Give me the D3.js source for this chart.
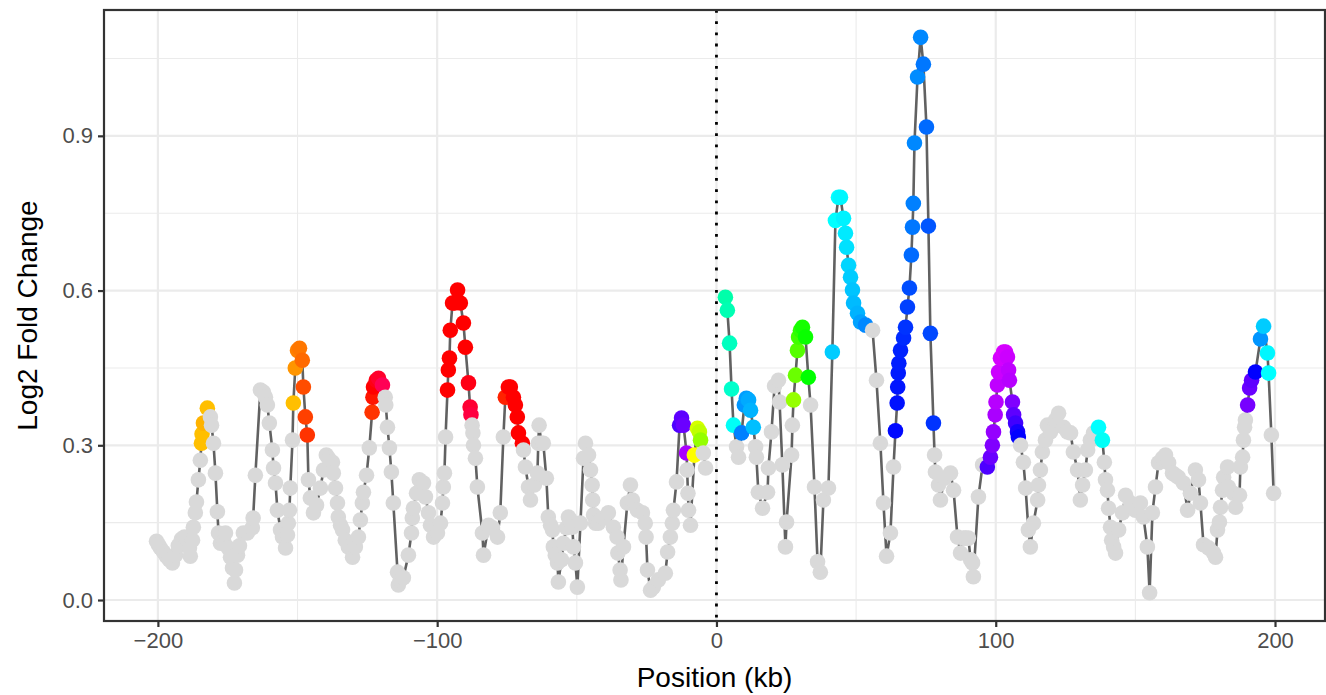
<!DOCTYPE html>
<html><head><meta charset="utf-8">
<script src="https://cdn.jsdelivr.net/npm/d3@7/dist/d3.min.js"></script>
<style>
body{margin:0;background:#fff}
text{font-family:"Liberation Sans",Arial,Helvetica,sans-serif}
</style>
</head><body>
<svg id="chart" width="1326" height="695"></svg>
<script>
// ---------- DATA ----------
// Background (non-significant) probes: position (kb) and log2 fold change
const bgPositionKb = [
-200.5,-199.8,-199.1,-198.0,-197.0,-195.9,-194.8,-193.7,-192.7,-191.6,
-190.5,-189.4,-188.7,-188.4,-187.6,-187.3,-186.6,-186.2,-185.5,-184.8,
-181.2,-180.8,-180.1,-179.4,-178.7,-178.3,-177.6,-176.5,-175.8,-174.8,
-174.0,-173.3,-172.6,-172.2,-171.5,-170.8,-169.4,-168.0,-166.2,-165.9,
-165.1,-163.3,-162.2,-161.5,-160.8,-160.1,-159.0,-158.6,-157.9,-157.2,
-156.1,-155.4,-154.3,-153.6,-153.3,-152.9,-152.6,-151.8,
-146.1,-145.4,-144.3,-143.2,-141.8,-140.7,-139.7,-138.9,-137.5,-137.2,
-136.4,-135.7,-135.4,-134.6,-133.9,-132.9,-131.8,-130.3,-129.3,-128.2,
-127.5,-126.8,-126.4,-125.3,-124.3,
-118.6,-118.4,-117.8,-117.1,-116.4,-115.7,-114.2,-113.9,-113.2,-112.1,
-110.3,-109.2,-108.9,-108.5,-107.4,-106.4,-104.9,-104.2,-103.1,-102.4,
-101.3,-99.9,-98.8,-98.1,-97.8,-97.4,-97.0,
-87.5,-87.2,-87.0,-86.3,-85.6,-83.8,-83.4,-81.6,-80.2,-78.4,-77.4,-76.3,
-69.1,-68.4,-67.3,-66.6,-65.2,-64.1,-63.8,-63.5,-62.7,-62.0,
-60.9,-60.2,-59.4,-58.7,-58.4,-57.7,-56.9,-56.6,-55.5,-54.8,
-53.7,-53.0,-52.3,-51.6,-51.2,-50.5,-49.8,-48.7,-47.6,-46.9,
-45.8,-45.1,-44.5,-44.3,-44.0,-43.3,-42.3,-40.5,-38.7,-36.9,
-35.6,-35.3,-34.5,-34.2,-33.3,-31.9,-30.8,-30.1,-28.3,-26.5,
-25.5,-25.2,-24.7,-23.6,-22.6,-20.8,-18.3,-17.5,-16.5,-15.8,
-15.4,-14.3,-10.5,-10.2,-10.0,-9.3,-4.7,-3.9,
7.2,7.9,14.0,14.3,15.0,16.5,18.3,18.6,19.7,20.8,
22.2,22.6,23.6,24.7,25.1,26.9,27.2,33.7,35.1,36.2,
37.2,38.3,40.1,55.9,57.3,58.7,59.8,60.9,62.3,63.4,
78.1,78.4,79.5,80.2,81.6,83.8,84.9,86.3,87.4,88.5,
89.2,90.2,91.0,91.7,92.0,93.8,95.3,
108.9,109.9,110.7,111.7,112.4,113.5,115.0,115.3,116.0,116.7,
117.8,118.5,119.6,121.4,122.5,124.3,125.7,126.8,127.8,129.3,
130.3,131.1,132.1,132.9,133.9,135.0,
138.9,139.3,140.0,140.4,141.1,141.5,142.2,142.9,144.0,145.4,
146.5,148.3,150.0,151.8,152.9,154.3,155.1,156.1,157.2,158.3,
159.7,160.8,161.9,163.3,164.4,165.4,167.2,168.7,169.7,171.5,
172.6,173.3,174.4,176.2,178.0,178.7,179.4,180.1,180.5,181.2,
181.6,183.0,183.3,185.1,185.9,187.3,187.6,188.4,188.7,189.1,
189.4,198.7,199.5
];
const bgLog2FC = [
0.114,0.107,0.101,0.093,0.085,0.078,0.072,0.087,0.105,0.118,
0.122,0.114,0.101,0.085,0.116,0.141,0.169,0.190,0.233,0.271,
0.355,0.339,0.304,0.246,0.171,0.130,0.110,0.116,0.130,0.101,
0.083,0.062,0.033,0.058,0.087,0.105,0.130,0.130,0.140,0.159,
0.242,0.407,0.403,0.393,0.378,0.343,0.291,0.256,0.227,0.174,
0.136,0.122,0.101,0.126,0.149,0.174,0.217,0.310,
0.233,0.198,0.169,0.184,0.217,0.252,0.281,0.275,0.267,0.246,
0.217,0.188,0.161,0.145,0.136,0.116,0.103,0.083,0.103,0.122,
0.155,0.188,0.209,0.242,0.295,
0.393,0.378,0.335,0.295,0.248,0.188,0.054,0.029,0.039,0.043,
0.087,0.130,0.159,0.178,0.207,0.233,0.227,0.200,0.169,0.145,
0.122,0.130,0.149,0.188,0.219,0.246,0.316,
0.339,0.324,0.300,0.275,0.219,0.130,0.087,0.145,0.140,0.122,0.169,0.316,
0.291,0.258,0.219,0.194,0.223,0.246,0.304,0.339,0.304,0.304,
0.236,0.161,0.145,0.136,0.103,0.087,0.072,0.035,0.078,0.110,
0.140,0.161,0.155,0.141,0.103,0.072,0.025,0.149,0.275,0.304,
0.281,0.252,0.223,0.194,0.165,0.149,0.149,0.159,0.169,0.141,
0.122,0.091,0.058,0.039,0.103,0.188,0.223,0.194,0.174,0.169,
0.149,0.122,0.058,0.019,0.025,0.039,0.052,0.093,0.122,0.149,
0.174,0.229,0.252,0.207,0.174,0.145,0.285,0.256,
0.297,0.277,0.297,0.277,0.209,0.178,0.209,0.256,0.326,0.415,
0.426,0.384,0.262,0.103,0.151,0.281,0.339,0.378,0.219,0.074,
0.054,0.194,0.217,0.523,0.426,0.304,0.188,0.085,0.130,0.258,
0.281,0.248,0.223,0.194,0.236,0.246,0.213,0.122,0.091,0.120,
0.120,0.120,0.078,0.072,0.045,0.200,0.262,
0.300,0.267,0.217,0.136,0.103,0.149,0.194,0.223,0.252,0.287,
0.310,0.339,0.326,0.349,0.362,0.335,0.326,0.324,0.287,0.252,
0.194,0.223,0.252,0.291,0.310,0.324,
0.267,0.233,0.213,0.178,0.141,0.116,0.103,0.091,0.136,0.169,
0.203,0.188,0.174,0.188,0.161,0.103,0.014,0.169,0.219,0.266,
0.275,0.281,0.266,0.246,0.242,0.238,0.227,0.174,0.207,0.252,
0.233,0.188,0.107,0.101,0.091,0.083,0.136,0.151,0.180,0.213,
0.238,0.258,0.219,0.207,0.180,0.203,0.258,0.277,0.310,0.335,
0.349,0.320,0.207
];
// Significant probes: position (kb), log2 fold change, and colour hue (degrees)
const sigPositionKb = [
-184.4,-184.2,-183.7,-182.3,
-151.5,-150.8,-150.0,-149.3,-148.3,-147.9,-147.2,-146.5,
-123.3,-123.0,-122.8,-121.8,-121.0,-119.6,
-96.3,-96.0,-95.6,-95.3,-94.5,-93.8,-92.7,-91.7,-90.6,-89.9,-88.8,-88.2,-87.9,
-75.6,-74.5,-73.8,-72.7,-72.0,-71.3,-70.9,-69.5,
-13.2,-12.5,-11.8,-10.7,
-7.9,-6.8,-6.1,-5.7,
3.2,3.9,4.7,5.4,6.1,
9.0,10.0,10.7,11.5,12.2,13.2,
27.6,28.3,29.0,29.4,30.1,30.8,31.9,32.9,
41.5,42.6,43.7,44.4,45.5,46.2,46.6,47.3,48.0,48.7,49.1,50.5,51.6,53.4,
64.1,64.7,64.9,65.1,65.3,65.9,67.0,67.7,68.4,69.1,69.8,70.2,70.5,70.9,
72.0,73.1,74.1,75.2,75.9,76.6,77.7,
97.0,98.1,98.8,99.2,99.8,100.1,100.6,101.0,101.7,102.8,103.5,104.2,104.6,104.9,
106.0,106.4,107.1,107.8,108.1,
136.8,138.2,
190.2,190.9,191.6,193.0,194.8,195.9,197.3,197.7
];
const sigLog2FC = [
0.304,0.322,0.343,0.372,
0.382,0.450,0.484,0.488,0.465,0.413,0.355,0.320,
0.364,0.393,0.413,0.426,0.430,0.417,
0.407,0.446,0.469,0.523,0.576,0.576,0.601,0.576,0.537,0.490,0.421,0.374,0.359,
0.393,0.413,0.413,0.393,0.378,0.355,0.324,0.304,
0.339,0.353,0.339,0.285,
0.281,0.333,0.326,0.310,
0.587,0.562,0.498,0.409,0.339,
0.324,0.378,0.391,0.388,0.368,0.335,
0.388,0.436,0.484,0.510,0.523,0.529,0.510,0.432,
0.481,0.736,0.781,0.781,0.740,0.711,0.684,0.649,0.626,0.601,0.576,0.556,0.539,0.533,
0.328,0.382,0.413,0.440,0.459,0.484,0.508,0.529,0.568,0.605,0.669,0.723,0.769,0.886,
1.014,1.091,1.039,0.917,0.725,0.517,0.343,
0.258,0.277,0.300,0.326,0.359,0.384,0.417,0.442,0.469,0.481,0.481,0.471,0.446,0.426,
0.384,0.359,0.343,0.326,0.316,
0.335,0.310,
0.378,0.411,0.426,0.442,0.506,0.531,0.479,0.440
];
const sigHue = [
45,45,42,45,
45,35,30,28,25,18,15,12,
12,5,0,355,350,340,
0,0,0,0,0,0,0,0,0,0,355,348,345,
8,0,0,0,0,0,0,0,
258,262,265,280,
60,70,75,85,
160,162,165,168,178,
210,205,203,200,198,195,
85,95,100,105,110,115,118,120,
192,180,180,182,183,185,187,190,192,194,196,198,202,208,
238,236,235,234,233,232,230,228,225,222,215,212,210,208,
207,208,212,215,220,223,228,
258,265,270,275,280,283,285,288,290,292,290,288,285,283,
270,262,255,245,240,
180,178,
268,265,262,240,205,192,182,180
];
const xTickValues = [-200,-100,0,100,200];
const xMinorValues = [-150,-50,50,150];
const yTickValues = [0,0.3,0.6,0.9];
const yMinorValues = [0.15,0.45,0.75,1.05];
const xTitle = "Position (kb)";
const yTitle = "Log2 Fold Change";

// ---------- CHART ----------
const svg = d3.select("#chart");
const panel = {left:104, right:1325, top:10, bottom:621};
const x = d3.scaleLinear().domain([-219.3, 217.9]).range([panel.left, panel.right]);
const y = d3.scaleLinear().domain([-0.0407, 1.144]).range([panel.bottom, panel.top]);

const points = [];
bgPositionKb.forEach((p,i)=>points.push({kb:p, lfc:bgLog2FC[i], hue:null}));
sigPositionKb.forEach((p,i)=>points.push({kb:p, lfc:sigLog2FC[i], hue:sigHue[i]}));
points.sort((a,b)=>a.kb-b.kb);

// grid
const g = svg.append("g");
g.selectAll(".xminor").data(xMinorValues).join("line")
  .attr("x1",d=>x(d)).attr("x2",d=>x(d)).attr("y1",panel.top).attr("y2",panel.bottom)
  .attr("stroke","#ebebeb").attr("stroke-width",1.1);
g.selectAll(".yminor").data(yMinorValues).join("line")
  .attr("y1",d=>y(d)).attr("y2",d=>y(d)).attr("x1",panel.left).attr("x2",panel.right)
  .attr("stroke","#ebebeb").attr("stroke-width",1.1);
g.selectAll(".xmajor").data(xTickValues).join("line")
  .attr("x1",d=>x(d)).attr("x2",d=>x(d)).attr("y1",panel.top).attr("y2",panel.bottom)
  .attr("stroke","#ebebeb").attr("stroke-width",2.2);
g.selectAll(".ymajor").data(yTickValues).join("line")
  .attr("y1",d=>y(d)).attr("y2",d=>y(d)).attr("x1",panel.left).attr("x2",panel.right)
  .attr("stroke","#ebebeb").attr("stroke-width",2.2);

// vertical dotted line at 0
svg.append("line").attr("x1",x(0)).attr("x2",x(0)).attr("y1",panel.top).attr("y2",panel.bottom)
  .attr("stroke","#000").attr("stroke-width",2.8).attr("stroke-dasharray","2.8,8.4");

// connecting lines (one per side of the origin)
const line = d3.line().x(d=>x(d.kb)).y(d=>y(d.lfc));
const sides = [points.filter(d=>d.kb<0), points.filter(d=>d.kb>0)];
svg.append("g").selectAll("path").data(sides).join("path")
  .attr("d",line).attr("fill","none").attr("stroke","#616161").attr("stroke-width",2.6)
  .attr("stroke-linejoin","round");

// points
svg.append("g").selectAll("circle").data(points).join("circle")
  .attr("cx",d=>x(d.kb)).attr("cy",d=>y(d.lfc)).attr("r",7.8)
  .attr("fill",d=>d.hue===null ? "#d9d9d9" : d3.hsl(d.hue,1,0.5).formatHex());

// panel border
svg.append("rect").attr("x",panel.left).attr("y",panel.top)
  .attr("width",panel.right-panel.left).attr("height",panel.bottom-panel.top)
  .attr("fill","none").attr("stroke","#333333").attr("stroke-width",2.2);

// axes
const xAxis = d3.axisBottom(x).tickValues(xTickValues).tickSize(6).tickPadding(5)
  .tickFormat(d=>d3.format("")(d).replace("-","\u2212"));
const xa = svg.append("g").attr("transform",`translate(0,${panel.bottom})`).call(xAxis);
const yAxis = d3.axisLeft(y).tickValues(yTickValues).tickSize(6).tickPadding(5)
  .tickFormat(d3.format(".1f"));
const ya = svg.append("g").attr("transform",`translate(${panel.left},0)`).call(yAxis);
[xa,ya].forEach(a=>{
  a.select(".domain").remove();
  a.selectAll(".tick line").attr("stroke","#333333").attr("stroke-width",2.2);
  a.selectAll(".tick text").attr("fill","#4d4d4d").style("font-size","22px")
   .style("font-family","'Liberation Sans',Arial,sans-serif");
});
xa.selectAll(".tick text").attr("dy","0.71em");

// titles
svg.append("text").attr("x",(panel.left+panel.right)/2).attr("y",687)
  .attr("text-anchor","middle").style("font-size","28px").attr("fill","#000").text(xTitle);
svg.append("text").attr("transform",`translate(37,${(panel.top+panel.bottom)/2}) rotate(-90)`)
  .attr("text-anchor","middle").style("font-size","28px").attr("fill","#000").text(yTitle);
</script>
</body></html>
